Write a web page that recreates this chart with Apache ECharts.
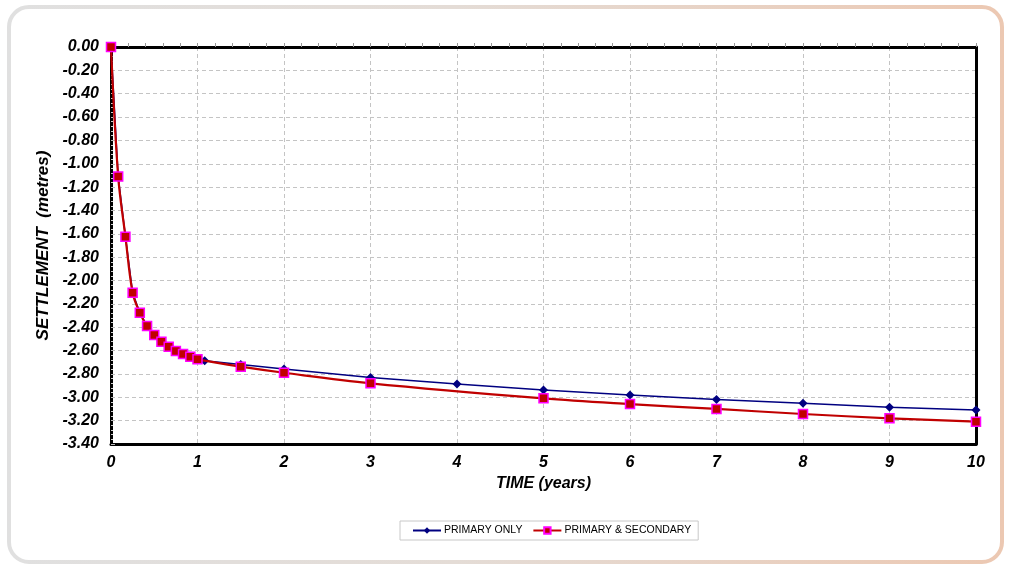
<!DOCTYPE html>
<html>
<head>
<meta charset="utf-8">
<script src="https://cdn.jsdelivr.net/npm/echarts@6/dist/echarts.min.js"></script>
<style>
html,body{margin:0;padding:0;background:#fff;}
#chart{width:1009px;height:569px;}
</style>
</head>
<body>
<div id="chart"></div>
<script>
// Data
const seriesNames = ['PRIMARY ONLY', 'PRIMARY & SECONDARY'];
const primaryTime = [0, 0.083, 0.167, 0.25, 0.333, 0.417, 0.5, 0.583, 0.667, 0.75, 0.833, 0.917, 1.0, 1.083, 1.5, 2, 3, 4, 5, 6, 7, 8, 9, 10];
const primarySettlement = [0, -1.11, -1.625, -2.105, -2.276, -2.39, -2.467, -2.524, -2.567, -2.604, -2.63, -2.653, -2.675, -2.687, -2.72, -2.758, -2.83, -2.887, -2.938, -2.981, -3.018, -3.052, -3.086, -3.109];
const secondaryTime = [0, 0.083, 0.167, 0.25, 0.333, 0.417, 0.5, 0.583, 0.667, 0.75, 0.833, 0.917, 1.0, 1.5, 2, 3, 5, 6, 7, 8, 9, 10];
const secondarySettlement = [0, -1.11, -1.625, -2.105, -2.276, -2.39, -2.467, -2.524, -2.567, -2.604, -2.63, -2.653, -2.675, -2.738, -2.79, -2.88, -3.009, -3.058, -3.10, -3.143, -3.18, -3.209];
const xTitle = 'TIME (years)';
const yTitle = 'SETTLEMENT  (metres)';

const pairs = (xs, ys) => xs.map((x, i) => [x, ys[i]]);

const chart = echarts.init(document.getElementById('chart'), null, {renderer: 'canvas'});
const labelFont = {fontFamily: 'Liberation Sans', fontWeight: 'bold', fontStyle: 'italic', color: '#000'};

chart.setOption({
  animation: false,
  backgroundColor: '#fff',
  graphic: [{
    type: 'rect',
    shape: {x: 9, y: 7, width: 993, height: 555, r: 20},
    style: {
      fill: 'none',
      lineWidth: 4,
      stroke: new echarts.graphic.LinearGradient(0, 0, 1, 0, [
        {offset: 0, color: '#e0e0e0'},
        {offset: 0.45, color: '#e4dcd6'},
        {offset: 1, color: '#ecc8b2'}
      ])
    },
    z: -10
  }],
  grid: {left: 111, right: 33, top: 47, bottom: 125, containLabel: false},
  legend: {
    top: 521,
    left: 400,
    itemWidth: 28,
    itemHeight: 8,
    itemGap: 10,
    padding: [4, 7, 4, 12],
    borderColor: '#c8c8c8',
    borderWidth: 1,
    textStyle: {fontFamily: 'Liberation Sans', fontSize: 10.5, color: '#000', padding: [0, 0, 0, -2]},
    data: seriesNames
  },
  xAxis: [{
    type: 'value', position: 'bottom', min: 0, max: 10, interval: 1,
    name: xTitle, nameLocation: 'middle', nameGap: 30,
    nameTextStyle: Object.assign({fontSize: 16}, labelFont),
    axisLine: {show: true, onZero: false, lineStyle: {color: '#000', width: 3}},
    axisTick: {show: false},
    axisLabel: Object.assign({fontSize: 16, margin: 11}, labelFont),
    splitLine: {show: true, lineStyle: {color: '#c4c4c4', type: [4, 3], width: 1}}
  }, {
    type: 'value', position: 'top', min: 0, max: 10, interval: 0.2,
    axisLine: {show: true, onZero: false, lineStyle: {color: '#000', width: 3}},
    axisTick: {show: true, inside: false, length: 4, lineStyle: {color: '#999', width: 1}},
    axisLabel: {show: false},
    splitLine: {show: false}
  }],
  yAxis: [{
    type: 'value', position: 'left', min: -3.4, max: 0, interval: 0.2,
    name: yTitle, nameLocation: 'middle', nameGap: 56, nameRotate: 90,
    nameTextStyle: Object.assign({fontSize: 17}, labelFont),
    axisLine: {show: true, onZero: false, lineStyle: {color: '#000', width: 3}},
    axisTick: {show: true, inside: true, length: 4, lineStyle: {color: '#bbb'}},
    minorTick: {show: true, splitNumber: 5, length: 2, lineStyle: {color: '#d0d0d0'}},
    axisLabel: Object.assign({fontSize: 16, margin: 12, formatter: v => v.toFixed(2)}, labelFont),
    splitLine: {show: true, lineStyle: {color: '#c4c4c4', type: [4, 3], width: 1}}
  }, {
    type: 'value', position: 'right', min: -3.4, max: 0, interval: 0.2,
    axisLine: {show: true, onZero: false, lineStyle: {color: '#000', width: 3}},
    axisTick: {show: false}, axisLabel: {show: false}, splitLine: {show: false}
  }],
  series: [{
    name: seriesNames[0], type: 'line',
    data: pairs(primaryTime, primarySettlement),
    symbol: 'diamond', symbolSize: 9,
    lineStyle: {color: '#000080', width: 1.5},
    itemStyle: {color: '#000080'},
    z: 2
  }, {
    name: seriesNames[1], type: 'line',
    data: pairs(secondaryTime, secondarySettlement),
    smooth: 0.35,
    symbol: 'rect', symbolSize: 9,
    lineStyle: {color: '#c00000', width: 2.2},
    itemStyle: {color: '#c00000', borderColor: '#ff00ff', borderWidth: 1.5},
    z: 3
  }]
});
</script>
</body>
</html>
